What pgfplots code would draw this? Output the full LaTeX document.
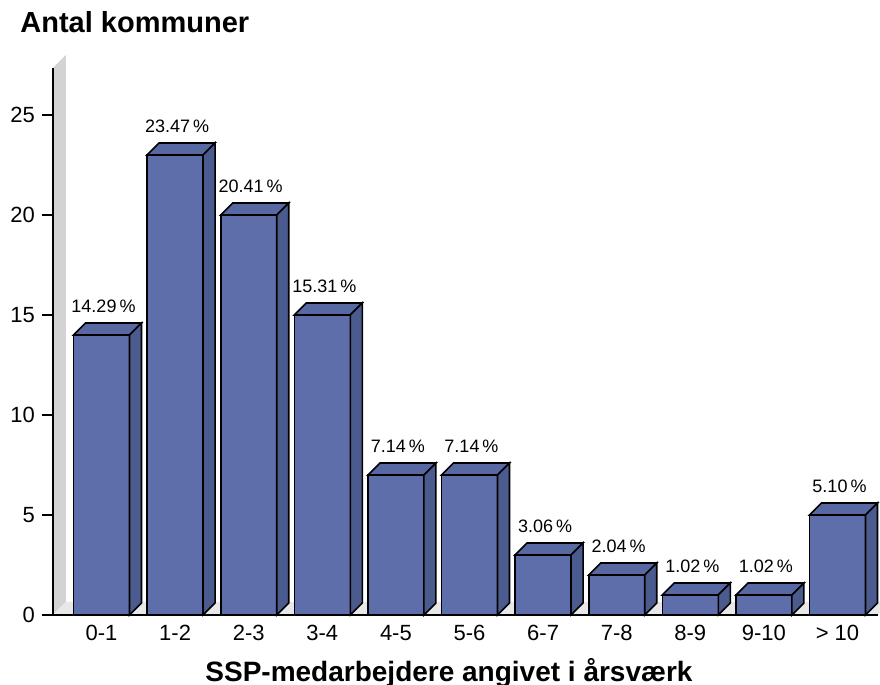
\documentclass[border=0pt]{standalone}
\usepackage{fontspec}
\setmainfont{Liberation Sans}
\usepackage{pgfplots}
\pgfplotsset{compat=1.18}

\definecolor{barFront}{HTML}{5E6EAA}
\definecolor{barTop}{HTML}{5868A2}
\definecolor{barSide}{HTML}{4C5B8E}
\definecolor{wallGrey}{HTML}{D3D3D3}
\definecolor{floorGrey}{HTML}{E8E8E8}

% the mark itself is empty, the box is drawn by the scatter code
\pgfdeclareplotmark{emptymark}{}

\begin{document}
\begin{tikzpicture}
  \useasboundingbox (-26.5pt,-35pt) rectangle (413.5pt,307.5pt);
  \begin{axis}[
      at={(0,0)}, anchor=south west,
      x=36.8pt, y=10pt,
      xmin=-0.659, xmax=10.55, ymin=0, ymax=27.35,
      clip=false, axis on top,
      axis x line*=bottom, axis y line*=left,
      axis line style={-, black, line width=0.6pt},
      every outer x axis line/.append style={-},
      every outer y axis line/.append style={-},
      xtick={0,...,10},
      xticklabels={0-1,1-2,2-3,3-4,4-5,5-6,6-7,7-8,8-9,9-10,> 10},
      ytick={0,5,...,25},
      xtick align=inside, ytick align=outside,
      major tick length=5.5pt,
      xtick style={draw=none},
      ytick style={black, line width=0.6pt},
      /pgf/number format/assume math mode=true,
      yticklabel style={font=\fontsize{11}{13}\selectfont},
      xticklabel style={font=\fontsize{11}{13}\selectfont, anchor=north, inner sep=0pt, yshift=-5pt},
      ylabel={Antal kommuner},
      every axis y label/.style={at={(axis description cs:-0.04,1.064)}, anchor=base west,
        inner sep=0pt, font=\bfseries\fontsize{14.5}{17}\selectfont},
      xlabel={SSP-medarbejdere angivet i årsværk},
      every axis x label/.style={at={(axis description cs:0.48,0)}, anchor=north,
        inner sep=0pt, yshift=-21.5pt, font=\bfseries\fontsize{14}{17}\selectfont},
    ]
    % grey wall and floor behind the bars
    \fill[wallGrey] (rel axis cs:0,0) -- (rel axis cs:0,1)
      -- ([shift={(6.5pt,6.5pt)}]rel axis cs:0,1) -- ([shift={(6.5pt,6.5pt)}]rel axis cs:0,0) -- cycle;
    \fill[floorGrey] (rel axis cs:0,0) -- (rel axis cs:1,0)
      -- ([shift={(6.5pt,6.5pt)}]rel axis cs:1,0) -- ([shift={(6.5pt,6.5pt)}]rel axis cs:0,0) -- cycle;

    % 3D bars: each mark sits on top of the front face
    \addplot[scatter, only marks, mark=emptymark,
      visualization depends on={rawy \as \hv},
      scatter/@pre marker code/.code={%
        \scope
        \pgfkeys{/pgf/fpu=false}%
        \filldraw[fill=barFront, draw=black, line width=0.8pt, line join=miter]
          (-14pt,{-\hv*10pt}) rectangle (14pt,0pt);
        \filldraw[fill=barTop, draw=black, line width=0.8pt, line join=miter]
          (-14pt,0pt) -- (-8pt,6pt) -- (20pt,6pt) -- (14pt,0pt) -- cycle;
        \filldraw[fill=barSide, draw=black, line width=0.8pt, line join=miter]
          (14pt,0pt) -- (20pt,6pt) -- (20pt,{6pt-\hv*10pt}) -- (14pt,{-\hv*10pt}) -- cycle;
      },
      scatter/@post marker code/.code={\endscope},
    ] coordinates {
      (0,14) (1,23) (2,20) (3,15) (4,7) (5,7) (6,3) (7,2) (8,1) (9,1) (10,5)
    };

    % percentage labels
    \addplot[only marks, mark=emptymark, nodes near coords, point meta=explicit symbolic,
      nodes near coords style={anchor=south, inner sep=0pt, yshift=11pt, xshift=1pt,
        font=\fontsize{9}{11}\selectfont},
    ] coordinates {
      (0,14)[14.29\,\%] (1,23)[23.47\,\%] (2,20)[20.41\,\%] (3,15)[15.31\,\%]
      (4,7)[7.14\,\%] (5,7)[7.14\,\%] (6,3)[3.06\,\%] (7,2)[2.04\,\%]
      (8,1)[1.02\,\%] (9,1)[1.02\,\%] (10,5)[5.10\,\%]
    };
  \end{axis}
\end{tikzpicture}
\end{document}
